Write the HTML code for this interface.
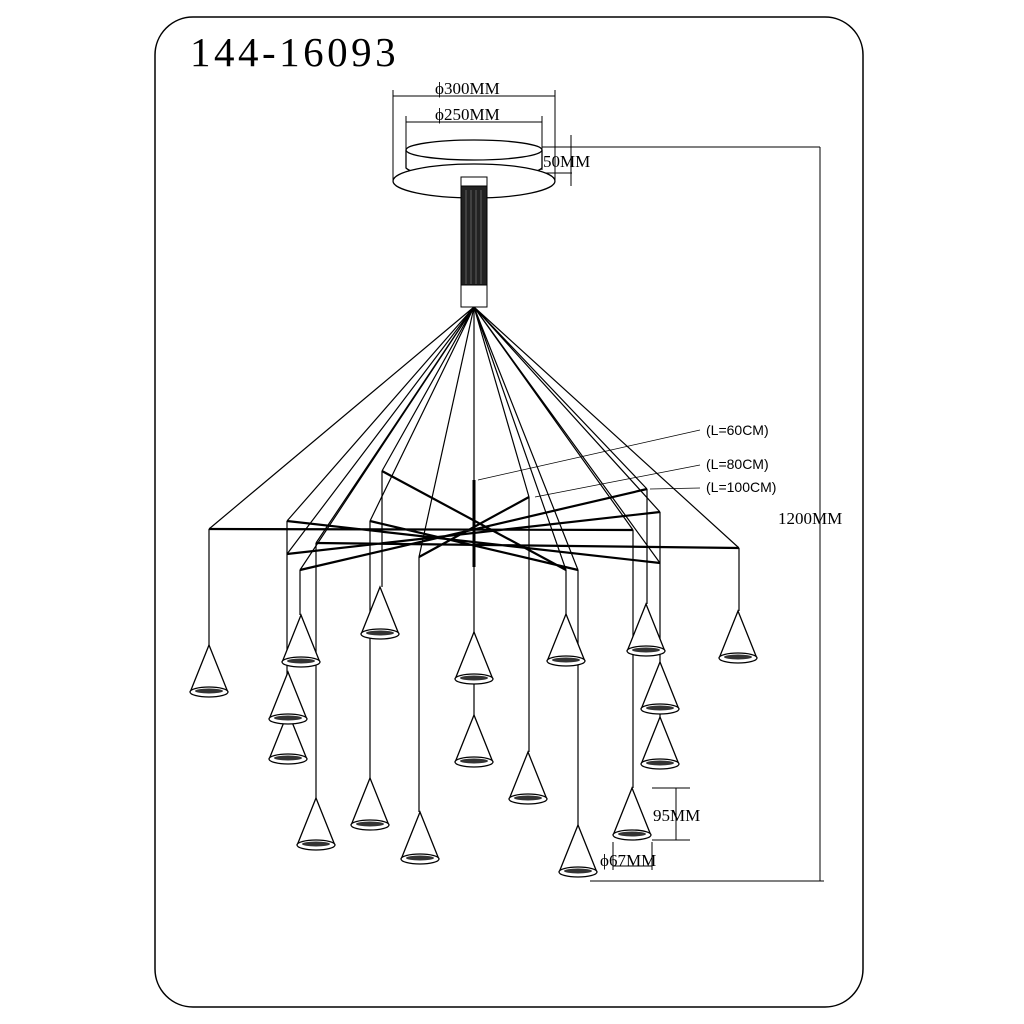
<!DOCTYPE html>
<html><head><meta charset="utf-8"><style>html,body{margin:0;background:#fff}svg{display:block}</style></head><body>
<svg width="1024" height="1024" viewBox="0 0 1024 1024" xmlns="http://www.w3.org/2000/svg" font-family="Liberation Serif, serif">
<defs>
<g id="cone"><path d="M0,0 L-18,45 L18,45 Z" fill="#fff" stroke="#000" stroke-width="1.3"/><ellipse cx="0" cy="47" rx="19" ry="5" fill="#fff" stroke="#000" stroke-width="1.3"/><ellipse cx="0" cy="46" rx="14" ry="2.5" fill="#333"/></g>
</defs>
<rect x="155" y="17" width="708" height="990" rx="38" fill="none" stroke="#000" stroke-width="1.5"/>
<text x="190" y="66" font-size="41" letter-spacing="3.5">144-16093</text>
<g stroke="#000" stroke-width="1" fill="none">
<line x1="393" y1="96" x2="555" y2="96"/><line x1="393" y1="90" x2="393" y2="180"/><line x1="555" y1="90" x2="555" y2="180"/>
<line x1="406" y1="122" x2="542" y2="122"/><line x1="406" y1="116" x2="406" y2="150"/><line x1="542" y1="116" x2="542" y2="170"/>
<line x1="542" y1="147" x2="820" y2="147"/><line x1="542" y1="173" x2="572" y2="173"/>
<line x1="571" y1="135" x2="571" y2="186"/>
<line x1="820" y1="147" x2="820" y2="881"/>
<line x1="590" y1="881" x2="824" y2="881"/>
<line x1="652" y1="788" x2="690" y2="788"/><line x1="652" y1="840" x2="690" y2="840"/><line x1="676" y1="788" x2="676" y2="840"/>
<line x1="613" y1="842" x2="613" y2="870"/><line x1="652" y1="842" x2="652" y2="870"/><line x1="613" y1="866" x2="652" y2="866"/>
</g>
<text x="435" y="94" font-size="17">ϕ300MM</text>
<text x="435" y="120" font-size="17">ϕ250MM</text>
<text x="543" y="167" font-size="17">50MM</text>
<text x="778" y="524" font-size="17">1200MM</text>
<text x="653" y="821" font-size="17">95MM</text>
<text x="600" y="866" font-size="17">ϕ67MM</text>
<path d="M406,150 L406,168 A69,12 0 0 0 542,168 L542,150" fill="#fff" stroke="#000" stroke-width="1.3"/>
<ellipse cx="474" cy="150" rx="68" ry="10" fill="#fff" stroke="#000" stroke-width="1.3"/>
<ellipse cx="474" cy="181" rx="81" ry="17" fill="#fff" stroke="#000" stroke-width="1.3"/>
<rect x="461" y="177" width="26" height="10" fill="#fff" stroke="#000"/>
<rect x="461" y="186" width="26" height="100" fill="#222" stroke="#000"/>
<g stroke="#888" stroke-width="0.6"><line x1="466" y1="190" x2="466" y2="284"/><line x1="471" y1="190" x2="471" y2="284"/><line x1="476" y1="190" x2="476" y2="284"/><line x1="481" y1="190" x2="481" y2="284"/></g>
<rect x="461" y="285" width="26" height="22" fill="#fff" stroke="#000"/>
<g stroke="#000" stroke-width="1.2" fill="none">
<path d="M474,307 L209,529 M474,307 L287,521 M474,307 L287,554 M474,307 L300,570 M474,307 L316,543 M474,307 L370,521 M474,307 L382,471 M474,307 L419,557 M474,307 L474,480 M474,307 L529,497 M474,307 L566,570 M474,307 L578,570 M474,307 L633,530 M474,307 L647,489 M474,307 L660,512 M474,307 L660,563 M474,307 L739,548"/>
<path d="M209,529 L633,530 M316,543 L739,548 M287,521 L660,563 M287,554 L660,512 M300,570 L647,489 M370,521 L578,570 M382,471 L566,570 M419,557 L529,497" stroke-width="2.2"/>
<line x1="474" y1="480" x2="474" y2="567" stroke-width="3"/>
<path d="M209,529 V645 M300,570 V615 M287,554 V672 M287,521 V722 M382,471 V587 M474,567 V632 M474,480 V715 M566,570 V614 M529,497 V752 M647,489 V604 M660,563 V662 M660,512 V717 M739,548 V611 M316,543 V798 M370,521 V778 M419,557 V812 M578,570 V825 M633,530 V788"/>
<path d="M478,480 L700,430 M535,497 L700,465 M650,489 L700,488" stroke-width="0.7"/>
</g>
<text x="706" y="435" font-family="Liberation Sans, sans-serif" font-size="14">(L=60CM)</text>
<text x="706" y="469" font-family="Liberation Sans, sans-serif" font-size="14">(L=80CM)</text>
<text x="706" y="492" font-family="Liberation Sans, sans-serif" font-size="14">(L=100CM)</text>
<use href="#cone" x="288" y="712"/>
<use href="#cone" x="209" y="645"/>
<use href="#cone" x="301" y="615"/>
<use href="#cone" x="288" y="672"/>
<use href="#cone" x="380" y="587"/>
<use href="#cone" x="474" y="632"/>
<use href="#cone" x="474" y="715"/>
<use href="#cone" x="566" y="614"/>
<use href="#cone" x="528" y="752"/>
<use href="#cone" x="646" y="604"/>
<use href="#cone" x="660" y="717"/>
<use href="#cone" x="660" y="662"/>
<use href="#cone" x="738" y="611"/>
<use href="#cone" x="316" y="798"/>
<use href="#cone" x="370" y="778"/>
<use href="#cone" x="420" y="812"/>
<use href="#cone" x="578" y="825"/>
<use href="#cone" x="632" y="788"/>
</svg>
</body></html>
